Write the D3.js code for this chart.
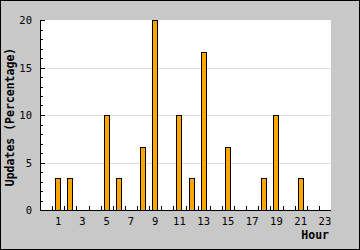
<!DOCTYPE html>
<html>
<head>
<meta charset="utf-8">
<script src="https://cdn.jsdelivr.net/npm/d3@7"></script>
<style>
  body { margin: 0; padding: 0; background: #fff; }
  svg { display: block; }
</style>
</head>
<body>
<div id="chart"></div>
<script>
// data
let hours = d3.range(0, 24);
let updates = [0, 3.33, 3.33, 0, 0, 10, 3.33, 0, 6.67, 20, 0, 10,
               3.33, 16.67, 0, 6.67, 0, 0, 3.33, 10, 0, 3.33, 0, 0];
let xTickLabels = [1, 3, 5, 7, 9, 11, 13, 15, 17, 19, 21, 23];
let yTicks = [0, 5, 10, 15, 20];

let W = 360, H = 250;
let margin = {top: 20, right: 29, bottom: 40, left: 40};
let plotW = W - margin.left - margin.right,
    plotH = H - margin.top - margin.bottom;

let svg = d3.select('#chart').append('svg')
  .attr('width', W).attr('height', H);

// gray background with black frame
svg.append('rect')
  .attr('x', 0.5).attr('y', 0.5)
  .attr('width', W - 1).attr('height', H - 1)
  .style('fill', '#c8c8c8')
  .style('stroke', '#000');

let g = svg.append('g')
  .attr('transform', `translate(${margin.left}, ${margin.top})`);

g.append('rect')
  .attr('width', plotW).attr('height', plotH)
  .style('fill', '#fff');

let xScale = d3.scaleBand().domain(hours).range([0, plotW]);
let yScale = d3.scaleLinear().domain([0, 20]).range([plotH, 0]);

// grid
g.selectAll('.grid')
  .data(yTicks.filter(d => d > 0 && d < 20))
  .enter().append('line')
  .attr('x1', 0).attr('x2', plotW)
  .attr('y1', d => Math.round(yScale(d)) + 0.5)
  .attr('y2', d => Math.round(yScale(d)) + 0.5)
  .style('stroke', '#dcdcdc');

// bars
g.selectAll('.bar')
  .data(hours.filter(h => updates[h] > 0))
  .enter().append('rect')
  .attr('x', h => Math.round(xScale(h) + xScale.bandwidth() / 2 - 3) + 0.5)
  .attr('y', h => Math.round(yScale(updates[h])) + 0.5)
  .attr('width', 5)
  .attr('height', h => Math.round(plotH - yScale(updates[h])))
  .style('fill', '#ffa500')
  .style('stroke', '#000');

// y axis: minor ticks every 1, major every 5, ticks inward
let yAxis = g.append('g');
yAxis.selectAll('line.tick')
  .data(d3.range(0, 21))
  .enter().append('line')
  .attr('x1', 0)
  .attr('x2', d => d % 5 === 0 ? 5 : 3)
  .attr('y1', d => Math.round(yScale(d)) + 0.5)
  .attr('y2', d => Math.round(yScale(d)) + 0.5)
  .style('stroke', '#000');
yAxis.append('line')
  .attr('x1', 0.5).attr('x2', 0.5)
  .attr('y1', 0).attr('y2', plotH + 0.5)
  .style('stroke', '#000');
yAxis.selectAll('text')
  .data(yTicks)
  .enter().append('text')
  .attr('x', -8)
  .attr('y', d => yScale(d) + 4)
  .attr('text-anchor', 'end')
  .style('font-family', 'DejaVu Sans Mono, monospace')
  .style('font-size', '10.5px')
  .text(d => d);

// x axis: ticks at band boundaries, labels on odd hours
let xAxis = g.append('g').attr('transform', `translate(0, ${plotH})`);
xAxis.append('line')
  .attr('x1', 0).attr('x2', plotW)
  .attr('y1', 0.5).attr('y2', 0.5)
  .style('stroke', '#000');
xAxis.selectAll('line.tick')
  .data(d3.range(1, 24))
  .enter().append('line')
  .attr('x1', d => Math.round(xScale(d)) + 0.5)
  .attr('x2', d => Math.round(xScale(d)) + 0.5)
  .attr('y1', 0).attr('y2', -4)
  .style('stroke', '#000');
xAxis.selectAll('text')
  .data(xTickLabels)
  .enter().append('text')
  .attr('x', d => xScale(d) + xScale.bandwidth() / 2)
  .attr('y', 15)
  .attr('text-anchor', 'middle')
  .style('font-family', 'DejaVu Sans Mono, monospace')
  .style('font-size', '10.5px')
  .text(d => d);

// titles
svg.append('text')
  .attr('x', margin.left + plotW - 2)
  .attr('y', 239)
  .attr('text-anchor', 'end')
  .style('font-family', 'DejaVu Sans Mono, monospace')
  .style('font-weight', 'bold')
  .style('font-size', '11.5px')
  .text('Hour');

svg.append('text')
  .attr('transform', `translate(14, ${margin.top + plotH / 2 + 2}) rotate(-90)`)
  .attr('text-anchor', 'middle')
  .style('font-family', 'DejaVu Sans Mono, monospace')
  .style('font-weight', 'bold')
  .style('font-size', '11.5px')
  .text('Updates (Percentage)');
</script>
</body>
</html>
